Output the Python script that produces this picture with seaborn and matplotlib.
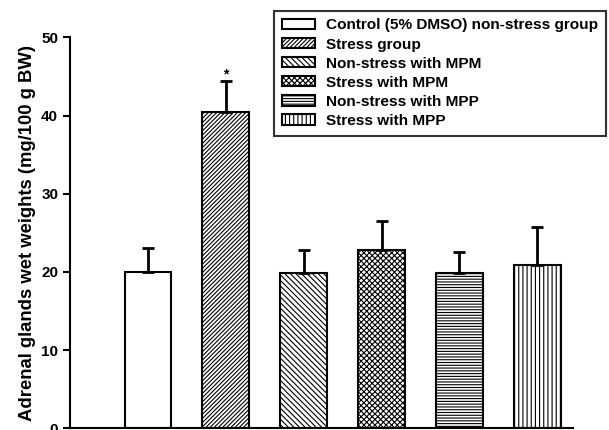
"""Adrenal gland wet weights by treatment group (bar chart with SEM)."""

import matplotlib
matplotlib.use("Agg")
import matplotlib.pyplot as plt
import seaborn as sns

groups = [
    "Control (5% DMSO) non-stress group",
    "Stress group",
    "Non-stress with MPM",
    "Stress with MPM",
    "Non-stress with MPP",
    "Stress with MPP",
]
means = [20.0, 40.4, 19.9, 22.8, 19.9, 20.9]
sem = [3.0, 4.0, 2.9, 3.7, 2.7, 4.8]
hatches = ["", "////////", "\\\\\\\\\\\\", "xxxxxx", "------", "||||"]
yticks = [0, 10, 20, 30, 40, 50]


def make_chart():
    sns.set_style("ticks")
    plt.rcParams["font.family"] = ["Liberation Sans", "DejaVu Sans"]
    plt.rcParams["font.weight"] = "bold"
    plt.rcParams["hatch.linewidth"] = 0.8
    for key in ["text.color", "axes.labelcolor", "xtick.color", "ytick.color"]:
        plt.rcParams[key] = "black"

    fig = plt.figure(figsize=(6.09, 4.30), dpi=100)
    ax = fig.add_axes([0.115, 0.004, 0.826, 0.909])

    sns.barplot(
        x=groups, y=means, order=groups, color="white",
        edgecolor="black", linewidth=1.5, width=0.6,
        errorbar=None, ax=ax,
    )
    for bar, h in zip(ax.patches, hatches):
        bar.set_hatch(h)

    # upper error bars only
    ax.errorbar(
        range(len(groups)), means, yerr=[[0] * len(sem), sem],
        fmt="none", ecolor="black", elinewidth=2, capsize=4.2,
        capthick=2, zorder=1,
    )
    ax.text(1, means[1] + sem[1], "*", ha="center", va="bottom",
            fontsize=10, fontweight="bold")

    ax.set_ylim(0, 50)
    ax.set_xlim(-1.0, 5.46)
    ax.set_yticks(yticks)
    ax.set_yticklabels([str(t) for t in yticks], fontsize=11, fontweight="bold")
    ax.set_xticks([])
    ax.tick_params(axis="y", length=5, width=1.5, direction="out")
    for side in ["left", "bottom"]:
        ax.spines[side].set_linewidth(1.5)
        ax.spines[side].set_color("black")
    sns.despine(ax=ax)

    ax.set_ylabel("Adrenal glands wet weights (mg/100 g BW)",
                  fontsize=13.3, fontweight="bold", labelpad=4)
    ax.set_xlabel("")

    leg = fig.legend(
        ax.patches, groups, loc="upper left",
        bbox_to_anchor=(0.45, 0.975), frameon=True, fancybox=False,
        edgecolor="black", handlelength=2.15,
        handleheight=0.65, labelspacing=0.33, borderpad=0.5,
        handletextpad=0.7, borderaxespad=0,
        prop={"weight": "bold", "size": 11.1},
    )
    leg.get_frame().set_linewidth(1.5)

    fig.savefig("out.png", dpi=100)
    plt.close(fig)


if __name__ == "__main__":
    make_chart()
